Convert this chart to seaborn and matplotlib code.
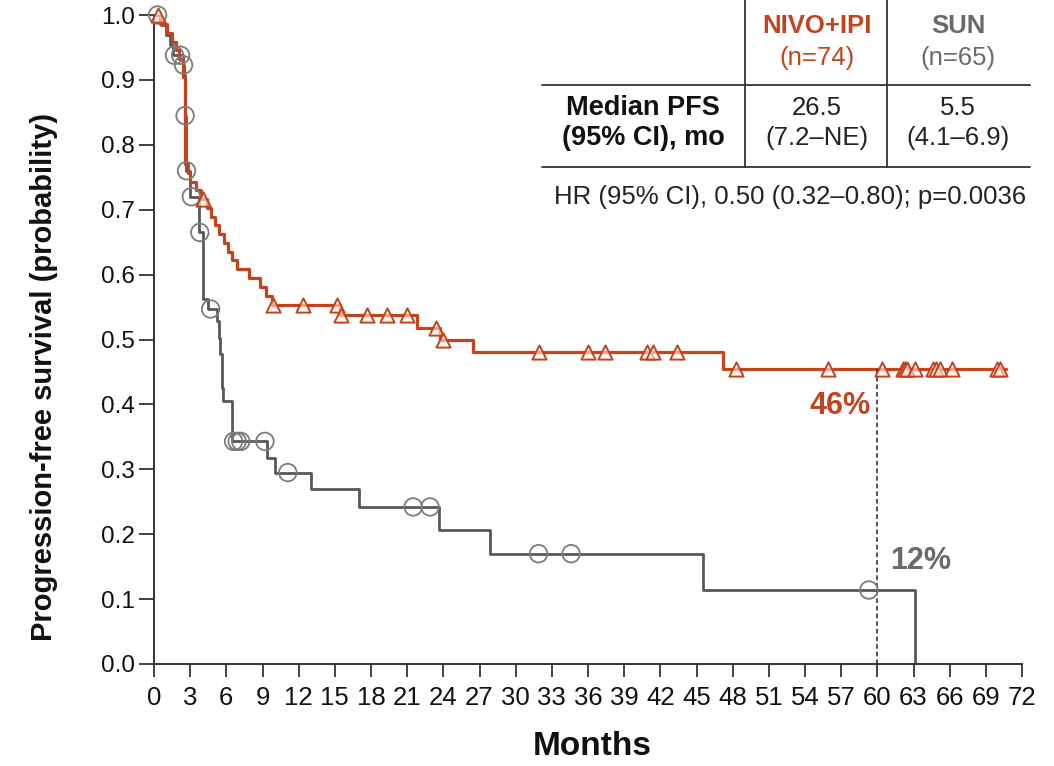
import numpy as np
import pandas as pd
import matplotlib
matplotlib.use("Agg")
import matplotlib.pyplot as plt
from matplotlib.lines import Line2D
import seaborn as sns

# ---- data -------------------------------------------------------------
month_ticks = list(range(0, 73, 3))
prob_ticks = [round(0.1 * i, 1) for i in range(11)]

# NIVO+IPI Kaplan-Meier steps (time in months, survival after the step)
nivo_times = [0.0, 0.5, 1.1, 1.5, 1.8, 2.1, 2.4, 2.6, 2.8, 3.0, 3.5, 3.9,
              4.4, 4.7, 5.1, 5.4, 5.8, 6.1, 6.5, 6.9, 7.9, 8.8, 9.3, 9.8,
              15.4, 21.8, 23.7, 26.5, 47.2, 70.7]
nivo_surv = [1.0, 0.986, 0.973, 0.959, 0.946, 0.932, 0.905, 0.770, 0.757,
             0.743, 0.730, 0.716, 0.703, 0.689, 0.676, 0.662, 0.649, 0.635,
             0.622, 0.608, 0.595, 0.581, 0.567, 0.553, 0.538, 0.518, 0.499,
             0.480, 0.455, 0.455]
nivo_censor = [0.3, 4.1, 9.9, 12.4, 15.2, 15.5, 17.7, 19.3, 21.0, 23.4, 24.0,
               31.9, 36.0, 37.4, 40.9, 41.4, 43.4, 48.3, 55.9, 60.4, 62.1,
               62.3, 62.5, 63.1, 64.6, 64.9, 65.2, 66.2, 69.9, 70.2]

# SUN Kaplan-Meier steps
sun_times = [0.0, 0.6, 1.0, 1.3, 1.6, 2.4, 2.5, 2.55, 2.65, 3.0, 3.75, 4.05,
             4.5, 5.2, 5.4, 5.5, 5.6, 5.7, 6.5, 9.4, 10.0, 13.0, 17.0, 23.6,
             27.9, 45.5, 63.1]
sun_surv = [1.0, 0.985, 0.969, 0.954, 0.938, 0.923, 0.908, 0.845, 0.760,
            0.720, 0.665, 0.563, 0.547, 0.529, 0.502, 0.478, 0.425, 0.405,
            0.343, 0.318, 0.295, 0.269, 0.242, 0.207, 0.170, 0.114, 0.0]
sun_censor = [0.3, 1.7, 2.2, 2.45, 2.58, 2.7, 3.1, 3.8, 4.7, 6.6, 6.9, 7.2,
              9.2, 11.1, 21.5, 22.9, 31.9, 34.6, 59.3]

landmark_month = 60
nivo_landmark_label = "46%"
sun_landmark_label = "12%"

RED = "#C1441F"
GREY = "#575757"
GREY_MK = "#7c7c7c"
GREY_TXT = "#6a6a6a"


def value_at(times, surv, t):
    idx = np.searchsorted(times, t, side="right") - 1
    return surv[idx]


curves = pd.DataFrame({
    "month": nivo_times + sun_times,
    "pfs": nivo_surv + sun_surv,
    "arm": ["NIVO+IPI"] * len(nivo_times) + ["SUN"] * len(sun_times),
})
cens = pd.DataFrame({
    "month": nivo_censor + sun_censor,
    "pfs": [value_at(nivo_times, nivo_surv, t) for t in nivo_censor]
           + [value_at(sun_times, sun_surv, t) for t in sun_censor],
    "arm": ["NIVO+IPI"] * len(nivo_censor) + ["SUN"] * len(sun_censor),
})

# ---- style ------------------------------------------------------------
sns.set_theme(style="ticks")
plt.rcParams["font.family"] = ["Liberation Sans", "DejaVu Sans"]

W, H = 1054, 766
fig = plt.figure(figsize=(W / 100, H / 100), dpi=100)
ax = fig.add_axes([154 / W, (H - 664) / H, 868 / W, 649 / H])

sub = curves[curves.arm == "SUN"]
sns.lineplot(data=sub, x="month", y="pfs", ax=ax, color=GREY, lw=2.0,
             drawstyle="steps-post", estimator=None, sort=False, legend=False)
sub = curves[curves.arm == "NIVO+IPI"]
sns.lineplot(data=sub, x="month", y="pfs", ax=ax, color=RED, lw=2.3,
             drawstyle="steps-post", estimator=None, sort=False, legend=False)

c = cens[cens.arm == "SUN"]
sns.scatterplot(data=c, x="month", y="pfs", ax=ax, marker="o", s=160,
                facecolor="none", edgecolor=GREY_MK, linewidth=1.3,
                legend=False, zorder=4, clip_on=False)
c = cens[cens.arm == "NIVO+IPI"]
sns.scatterplot(data=c, x="month", y="pfs", ax=ax, marker="^", s=105,
                facecolor=(1, 0.93, 0.9, 0.6), edgecolor=RED, linewidth=1.4,
                legend=False, zorder=5, clip_on=False)

# landmark at 60 months
ax.plot([landmark_month, landmark_month],
        [0, value_at(nivo_times, nivo_surv, landmark_month)],
        ls=(0, (3, 2)), color="#222222", lw=1.1, zorder=2)
ax.text(56.9, 0.397, nivo_landmark_label, color=RED, fontsize=22,
        fontweight="bold", ha="center", va="center")
ax.text(63.6, 0.158, sun_landmark_label, color=GREY_TXT, fontsize=22,
        fontweight="bold", ha="center", va="center")

ax.set_xlim(0, 72)
ax.set_ylim(0, 1.0)
ax.set_xticks(month_ticks)
ax.set_xticklabels([str(m) for m in month_ticks])
ax.set_yticks(prob_ticks)
ax.set_yticklabels([f"{p:.1f}" for p in prob_ticks])
ax.tick_params(axis="x", length=9, width=1.3, colors="#333333", labelsize=18.5,
               pad=7, labelcolor="#111111")
ax.tick_params(axis="y", length=11, width=1.3, colors="#333333", labelsize=17.5,
               pad=3, labelcolor="#111111")
for s in ["top", "right"]:
    ax.spines[s].set_visible(False)
for s in ["left", "bottom"]:
    ax.spines[s].set_color("#333333")
    ax.spines[s].set_linewidth(1.4)

ax.set_xlabel("Months", fontsize=24, fontweight="bold", color="#111111")
ax.set_ylabel("Progression-free survival (probability)", fontsize=21,
              fontweight="bold", color="#111111")
ax.xaxis.set_label_coords(0.5046, -0.104)
ax.yaxis.set_label_coords(-0.111, 0.442)


# ---- summary table ----------------------------------------------------
def fx(x):
    return x / W


def fy(y):
    return 1 - y / H


def hline(y, x0, x1):
    fig.add_artist(Line2D([fx(x0), fx(x1)], [fy(y), fy(y)],
                          transform=fig.transFigure, color="#333333", lw=1.3))


def vline(x, y0, y1):
    fig.add_artist(Line2D([fx(x), fx(x)], [fy(y0), fy(y1)],
                          transform=fig.transFigure, color="#333333", lw=1.3))


hline(85, 542, 1030)
hline(167, 542, 1030)
vline(745, 0, 167)
vline(887, 0, 167)

tsz = 18.5
bsz = 19.5
fig.text(fx(817), fy(26), "NIVO+IPI", color=RED, fontsize=tsz, fontweight="bold",
         ha="center", va="center")
fig.text(fx(817), fy(58), "(n=74)", color=RED, fontsize=tsz, ha="center", va="center")
fig.text(fx(958), fy(26), "SUN", color=GREY_TXT, fontsize=tsz, fontweight="bold",
         ha="center", va="center")
fig.text(fx(958), fy(58), "(n=65)", color=GREY_TXT, fontsize=tsz, ha="center", va="center")
fig.text(fx(643), fy(108), "Median PFS", color="#111111", fontsize=bsz,
         fontweight="bold", ha="center", va="center")
fig.text(fx(643), fy(138), "(95% CI), mo", color="#111111", fontsize=bsz,
         fontweight="bold", ha="center", va="center")
fig.text(fx(817), fy(108), "26.5", color="#222222", fontsize=tsz, ha="center", va="center")
fig.text(fx(817), fy(138), "(7.2\u2013NE)", color="#222222", fontsize=tsz,
         ha="center", va="center")
fig.text(fx(958), fy(108), "5.5", color="#222222", fontsize=tsz, ha="center", va="center")
fig.text(fx(958), fy(138), "(4.1\u20136.9)", color="#222222", fontsize=tsz,
         ha="center", va="center")
fig.text(fx(790), fy(197), "HR (95% CI), 0.50 (0.32\u20130.80); p=0.0036",
         color="#222222", fontsize=tsz, ha="center", va="center")

fig.savefig("out.png", dpi=100, facecolor="white")
